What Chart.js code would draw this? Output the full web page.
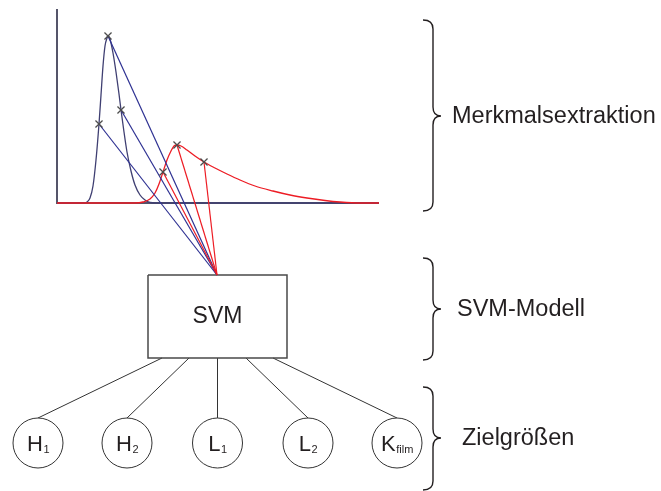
<!DOCTYPE html>
<html>
<head>
<meta charset="utf-8">
<script src="https://cdn.jsdelivr.net/npm/chart.js@4"></script>
<style>
    html, body { margin: 0; padding: 0; background: #ffffff; }
    #wrap { position: relative; width: 661px; height: 491px; }
</style>
</head>
<body>
<div id="wrap"><canvas id="diagram"></canvas></div>
<script>
// Signal curves (plot units = page pixels, y downwards)
const blueCurveX = [57, 84, 87, 90, 93, 96, 99, 101, 103, 105, 107, 108, 110, 113, 116, 119, 121, 124, 127, 131, 135, 140, 145, 150, 156, 379];
const blueCurveY = [203, 203, 202, 198, 186, 160, 124, 95, 66, 46, 38, 36, 39, 53, 72, 94, 110, 132, 152, 171, 185, 195, 200, 202.5, 203, 203];
const redCurveX = [57, 135, 143, 150, 155, 159, 163, 167, 171, 174, 177, 181, 187, 195, 204, 215, 227, 240, 255, 273, 290, 307, 325, 340, 360, 379];
const redCurveY = [203, 203, 202, 199, 193, 184, 172, 160, 151, 146, 145, 146, 150, 156, 162, 168, 174, 180, 186, 191, 195, 198, 200.5, 202, 203, 203];

// extracted features (marked with x)
const blueFeatureX = [108, 99, 121];
const blueFeatureY = [36, 124, 110];
const redFeatureX = [163, 177, 204];
const redFeatureY = [172, 145, 162];

// target variables
const targetNames = ["H", "H", "L", "L", "K"];
const targetSubs = ["1", "2", "1", "2", "film"];
const targetX = [38, 127, 217.5, 308, 397];
const boxExitX = [162, 189, 217.5, 246, 273];

// group labels and their braces
const groupLabels = ["Merkmalsextraktion", "SVM-Modell", "Zielgrößen"];
const braceTop = [20, 258, 387];
const braceTip = [116, 309, 438];
const braceBottom = [211, 360, 490];

// layout
const axisLeft = 57, axisTop = 9, baseY = 203, baseRight = 379;
const box = { left: 148, right: 287, top: 275, bottom: 358 };
const apexX = 217;
const circleY = 443, circleR = 25;
const labelX = [452, 457, 462];
const font = '"Liberation Sans", Arial, Helvetica, sans-serif';

const blue = "#2e3192";
const curveBlue = "#3f3f72";
const red = "#ed1c24";
const ink = "#231f20";

const toPoints = (xs, ys) => xs.map((x, i) => ({ x, y: ys[i] }));

const segments = (xs, ys, color) => xs.map((x, i) => ({
    type: "line",
    data: [{ x, y: ys[i] }, { x: apexX, y: box.top }],
    borderColor: color,
    borderWidth: 1.2,
    pointRadius: 0,
    order: 3,
}));

const datasets = [
    {
        type: "scatter",
        data: toPoints(blueFeatureX, blueFeatureY).concat(toPoints(redFeatureX, redFeatureY)),
        pointStyle: "crossRot",
        pointRadius: 5,
        borderColor: "#4d4d4d",
        borderWidth: 1.3,
        order: 1,
    },
    {
        type: "scatter",
        data: targetX.map((x) => ({ x, y: circleY })),
        pointStyle: "circle",
        pointRadius: circleR,
        backgroundColor: "#ffffff",
        borderColor: "#333333",
        borderWidth: 1,
        order: 2,
    },
    ...segments(redFeatureX, redFeatureY, red),
    ...segments(blueFeatureX, blueFeatureY, blue),
    {
        type: "line",
        data: toPoints(redCurveX, redCurveY),
        borderColor: red,
        borderWidth: 1.3,
        cubicInterpolationMode: "monotone",
        pointRadius: 0,
        order: 4,
    },
    {
        type: "line",
        data: toPoints(blueCurveX, blueCurveY),
        borderColor: curveBlue,
        borderWidth: 1.3,
        cubicInterpolationMode: "monotone",
        pointRadius: 0,
        order: 5,
    },
    {
        type: "line",
        data: [{ x: axisLeft, y: axisTop }, { x: axisLeft, y: baseY }, { x: baseRight, y: baseY }],
        borderColor: "#55556a",
        borderWidth: 2,
        pointRadius: 0,
        order: 6,
    },
    {
        type: "line",
        data: [
            { x: box.left, y: box.top }, { x: box.right, y: box.top },
            { x: box.right, y: box.bottom }, { x: box.left, y: box.bottom },
            { x: box.left, y: box.top },
        ],
        borderColor: "#4a4a4a",
        borderWidth: 1.5,
        pointRadius: 0,
        order: 7,
    },
    ...boxExitX.map((x, i) => ({
        type: "line",
        data: [{ x, y: box.bottom }, { x: targetX[i], y: circleY - circleR }],
        borderColor: "#333333",
        borderWidth: 1,
        pointRadius: 0,
        order: 7,
    })),
];

const annotations = {
    id: "annotations",
    afterDatasetsDraw(chart) {
        const { ctx, scales } = chart;
        const px = (v) => scales.x.getPixelForValue(v);
        const py = (v) => scales.y.getPixelForValue(v);
        ctx.save();
        ctx.fillStyle = ink;
        ctx.strokeStyle = ink;

        // SVM box text
        ctx.font = "23px " + font;
        ctx.textAlign = "center";
        ctx.textBaseline = "middle";
        ctx.fillText("SVM", px((box.left + box.right) / 2), py((box.top + box.bottom) / 2));

        // target labels with subscripts
        ctx.textAlign = "left";
        ctx.textBaseline = "alphabetic";
        targetNames.forEach((name, i) => {
            ctx.font = "22px " + font;
            const w1 = ctx.measureText(name).width;
            ctx.font = "11px " + font;
            const w2 = ctx.measureText(targetSubs[i]).width;
            const x0 = px(targetX[i]) - (w1 + w2) / 2;
            ctx.font = "22px " + font;
            ctx.fillText(name, x0, py(circleY + 8));
            ctx.font = "11px " + font;
            ctx.fillText(targetSubs[i], x0 + w1 + 0.5, py(circleY + 10));
        });

        // braces and group labels
        ctx.lineWidth = 1.4;
        groupLabels.forEach((label, i) => {
            const xL = px(423), xM = px(433), xT = px(441);
            const yT = py(braceTop[i]), yM = py(braceTip[i]), yB = py(braceBottom[i]);
            const r = 9;
            ctx.beginPath();
            ctx.moveTo(xL, yT);
            ctx.quadraticCurveTo(xM, yT, xM, yT + r);
            ctx.lineTo(xM, yM - r);
            ctx.quadraticCurveTo(xM, yM, xT, yM);
            ctx.quadraticCurveTo(xM, yM, xM, yM + r);
            ctx.lineTo(xM, yB - r);
            ctx.quadraticCurveTo(xM, yB, xL, yB);
            ctx.stroke();

            ctx.font = "23.5px " + font;
            ctx.textBaseline = "middle";
            ctx.fillText(label, px(labelX[i]), yM + 1);
            ctx.textBaseline = "alphabetic";
        });
        ctx.restore();
    },
};

new Chart(document.getElementById("diagram"), {
    type: "scatter",
    data: { datasets },
    options: {
        responsive: true,
        maintainAspectRatio: false,
        animation: false,
        layout: { padding: 0, autoPadding: false },
        scales: {
            x: { type: "linear", min: 0, max: 661, display: false },
            y: { type: "linear", min: 0, max: 491, reverse: true, display: false },
        },
        plugins: {
            legend: { display: false },
            tooltip: { enabled: false },
        },
        elements: { line: { fill: false, tension: 0 } },
    },
    plugins: [annotations],
});
</script>
</body>
</html>
